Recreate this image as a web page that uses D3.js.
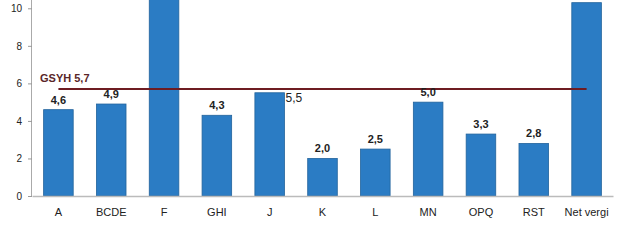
<!DOCTYPE html>
<html>
<head>
<meta charset="utf-8">
<script src="https://d3js.org/d3.v7.min.js"></script>
<style>
  body { margin: 0; background: #fff; }
  svg { display: block; font-family: "Liberation Sans", Arial, sans-serif; }
</style>
</head>
<body>
<div class="chart"></div>
<script>
// Data
const categories = ["A", "BCDE", "F", "GHI", "J", "K", "L", "MN", "OPQ", "RST", "Net vergi"]
const values = [4.6, 4.9, 12.0, 4.3, 5.5, 2.0, 2.5, 5.0, 3.3, 2.8, 10.3]
const labels = ["4,6", "4,9", "", "4,3", "5,5", "2,0", "2,5", "5,0", "3,3", "2,8", ""]
const yTicks = [0, 2, 4, 6, 8, 10]
const gsyh = 5.7
const gsyhLabel = "GSYH 5,7"

const width = 627
const height = 250
const margin = {left: 32, right: 14, top: 0, bottom: 54}

const svg = d3.select(".chart").append("svg")
    .attr("width", width)
    .attr("height", height)
    .attr("viewBox", [0, 0, width, height])

// Scales
const x = d3.scaleBand()
    .domain(categories)
    .range([margin.left, width - margin.right])
    .paddingInner(0.44)
    .paddingOuter(0.22)

const y = d3.scaleLinear()
    .domain([0, 10])
    .range([196, 8.3])

// Y axis
const yAxis = svg.append("g")
    .attr("transform", `translate(${margin.left},0)`)
    .call(d3.axisLeft(y).tickValues(yTicks).tickSize(4).tickPadding(6))
yAxis.select(".domain").attr("stroke", "#aaa").attr("d", `M-0.5,${y(0)}V0`)
yAxis.selectAll(".tick line").attr("stroke", "#999")
yAxis.selectAll(".tick text").attr("fill", "#222").style("font-size", "10px")

// Bars
svg.append("g")
    .selectAll("rect")
    .data(values)
    .join("rect")
    .attr("x", (d, i) => x(categories[i]))
    .attr("y", d => y(d))
    .attr("width", x.bandwidth())
    .attr("height", d => y(0) - y(d))
    .attr("fill", "#2b7cc4")
    .attr("stroke", "#22639c")
    .attr("stroke-width", 0.8)

// X axis
const xAxis = svg.append("g")
    .attr("transform", `translate(0,${y(0)})`)
    .call(d3.axisBottom(x).tickSize(0).tickPadding(12))
xAxis.select(".domain").attr("stroke", "#bbb").attr("stroke-width", 1.5)
xAxis.selectAll(".tick text").attr("fill", "#222").style("font-size", "11px")

// GSYH reference line
svg.append("line")
    .attr("x1", x(categories[0]) + x.bandwidth() / 2)
    .attr("x2", x(categories[categories.length - 1]) + x.bandwidth() / 2)
    .attr("y1", y(gsyh))
    .attr("y2", y(gsyh))
    .attr("stroke", "#6e1c22")
    .attr("stroke-width", 2)

svg.append("text")
    .attr("x", 40)
    .attr("y", y(gsyh) - 7)
    .attr("fill", "#5a2628")
    .style("font-size", "11px")
    .style("font-weight", "bold")
    .text(gsyhLabel)

// Value labels (J sits right of its bar, clear of the line)
svg.append("g")
    .selectAll("text")
    .data(values)
    .join("text")
    .attr("x", (d, i) => categories[i] === "J"
        ? x(categories[i]) + x.bandwidth() + 1
        : x(categories[i]) + x.bandwidth() / 2)
    .attr("y", (d, i) => categories[i] === "J" ? y(d) + 9 : y(d) - 6)
    .attr("text-anchor", (d, i) => categories[i] === "J" ? "start" : "middle")
    .attr("fill", "#222")
    .style("font-size", (d, i) => categories[i] === "J" ? "12px" : "11px")
    .style("font-weight", (d, i) => categories[i] === "J" ? "normal" : "bold")
    .text((d, i) => labels[i])
</script>
</body>
</html>
